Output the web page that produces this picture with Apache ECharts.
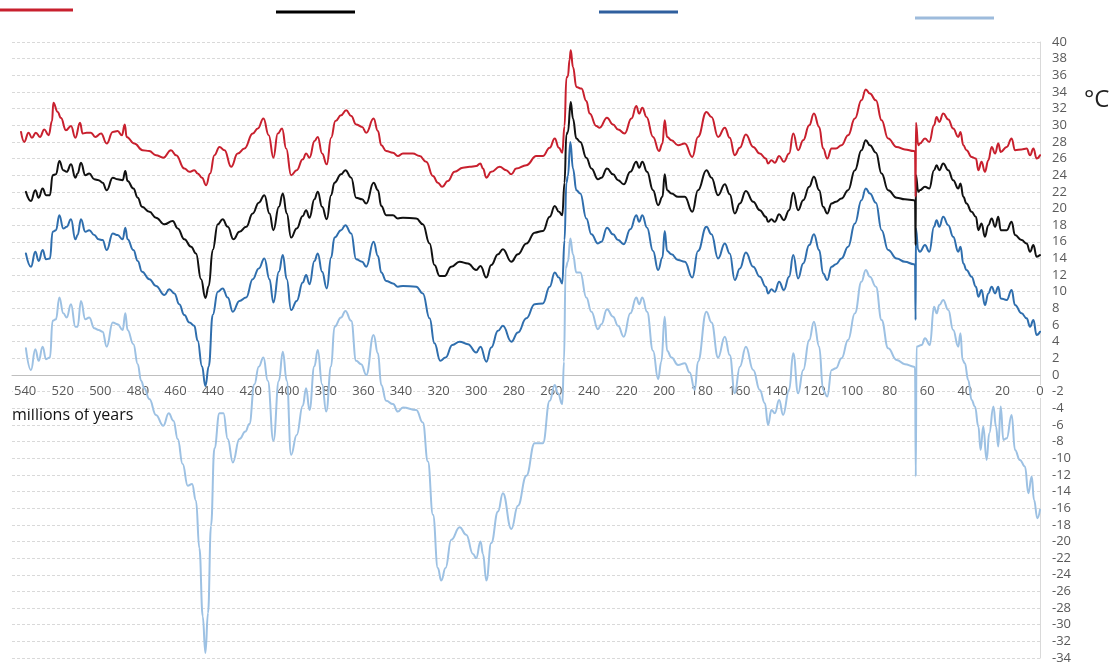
<!DOCTYPE html>
<html>
<head>
<meta charset="utf-8">
<script src="https://cdn.jsdelivr.net/npm/echarts/dist/echarts.min.js"></script>
<style>
html,body{margin:0;padding:0;background:#fff;}
#chart{width:1109px;height:663px;}
</style>
</head>
<body>
<div id="chart"></div>
<script>
// ---- data (age in millions of years, temperature in °C) ----
const tropicalAge = [542.2,540.5,538.2,536.4,534.3,532.1,529.8,527.5,525.7,525.0,522.7,521.0,518.3,515.6,513.3,510.8,509.4,507.3,505.0,502.7,499.6,496.6,493.4,490.8,488.5,487.0,486.0,481.9,477.5,474.0,470.4,466.5,462.4,459.7,455.3,452.6,450.0,448.2,445.9,443.7,441.6,439.3,436.6,433.9,430.4,426.9,423.3,418.9,416.2,413.2,410.4,407.9,405.6,403.3,401.1,398.5,395.5,392.3,390.5,388.7,386.0,384.3,382.0,379.5,377.2,374.9,371.9,369.2,366.5,363.9,360.7,358.5,354.6,352.3,350.5,347.9,344.3,341.7,339.0,333.7,330.1,326.6,323.0,320.4,318.1,315.1,311.5,307.1,303.5,300.0,297.8,296.4,294.6,292.0,287.5,284.0,281.3,278.7,273.3,268.0,264.5,260.9,258.2,256.0,254.2,253.0,252.0,251.2,250.3,249.7,248.5,246.7,244.0,241.4,239.6,236.1,234.3,230.4,227.2,224.5,221.0,217.4,214.8,213.3,211.6,209.4,205.9,202.7,200.9,199.7,198.4,196.1,192.6,189.0,185.0,182.0,177.5,174.8,171.3,167.7,165.1,162.4,159.7,156.5,152.6,149.1,145.9,144.7,142.9,141.1,138.8,136.3,133.5,131.3,128.7,126.0,122.8,120.3,117.5,115.4,113.2,110.9,108.6,105.6,102.1,98.5,95.0,92.7,90.5,87.3,84.3,80.8,76.3,71.9,67.1,66.5,66.2,66.0,64.8,63.9,61.2,58.9,56.4,55.0,53.6,51.5,48.8,46.2,43.5,42.3,40.8,39.1,36.4,34.1,32.8,31.1,29.3,27.5,25.7,23.9,22.2,20.9,17.7,15.1,13.3,9.8,7.1,5.3,3.5,1.8,0];
const tropicalTemp = [29.2,28.0,29.1,28.5,29.1,28.6,29.5,28.8,30.5,32.7,31.6,30.9,29.4,29.9,28.5,30.3,29.0,29.1,29.1,28.6,29.0,27.8,29.2,29.3,28.8,30.1,28.6,27.8,27.0,26.9,26.4,26.1,27.0,26.4,24.8,24.4,24.6,24.2,23.7,22.8,24.2,26.4,27.4,27.0,25.0,26.6,27.2,29.0,29.6,30.8,28.8,26.1,29.0,29.6,27.2,24.0,24.6,25.9,26.6,26.1,28.1,28.6,26.6,25.3,28.5,30.5,31.2,31.8,31.1,30.1,29.8,29.1,30.8,29.3,27.6,26.9,26.7,26.3,26.6,26.6,26.3,25.6,23.9,23.1,22.6,23.3,24.4,24.9,25.0,25.1,25.4,24.8,23.7,24.4,25.0,24.6,24.1,24.8,25.2,26.3,26.3,27.3,28.4,27.3,26.7,29.9,35.7,35.9,37.9,39.0,37.0,34.6,34.4,32.9,31.4,29.9,29.7,30.9,30.1,29.5,29.0,30.8,32.3,31.4,32.1,31.0,28.6,26.9,27.8,30.6,28.6,28.2,27.6,27.8,26.2,28.6,31.6,31.0,28.6,29.7,28.5,26.4,27.3,28.9,27.4,26.6,26.0,25.4,25.8,25.5,26.3,25.6,26.6,29.0,27.0,28.2,30.0,31.4,29.8,27.2,26.0,27.2,27.2,27.6,28.8,30.8,33.0,34.3,33.8,33.0,30.6,28.4,27.4,27.1,26.9,26.8,21.4,30.3,27.6,27.8,28.4,28.0,30.0,31.0,30.4,31.4,30.7,29.6,28.6,29.2,27.6,27.0,26.2,26.0,24.6,25.6,24.4,25.8,27.4,26.6,27.8,26.8,27.4,28.4,27.0,27.1,27.2,26.4,27.2,26.0,26.4];

const globalAge = [539.6,536.9,534.6,532.8,530.7,528.9,526.8,525.4,523.6,521.8,519.7,517.9,515.6,513.3,512.1,510.3,508.0,505.9,503.2,500.9,498.8,496.6,493.4,490.8,488.1,486.7,485.5,482.4,480.1,477.8,473.9,470.4,465.9,461.5,458.8,455.3,451.7,449.1,446.4,444.1,442.3,440.2,437.5,434.9,432.2,429.2,426.0,422.4,418.9,415.7,412.7,410.0,407.9,405.0,402.9,400.8,398.5,395.5,392.3,390.5,388.7,386.1,384.3,382.0,379.5,377.2,375.4,371.9,369.6,366.5,363.9,360.7,358.5,354.6,352.3,350.5,347.9,344.3,341.7,339.0,331.9,328.4,324.8,322.2,319.5,316.8,313.3,308.8,304.4,300.0,297.7,294.6,292.0,288.4,285.8,281.3,277.8,273.3,268.9,264.5,260.9,258.2,256.0,254.2,253.0,252.0,251.2,249.7,248.5,246.7,244.6,241.4,238.7,235.2,233.4,230.4,227.2,224.5,221.5,218.0,214.8,213.3,211.6,209.1,205.9,203.2,200.9,199.7,198.4,196.1,192.6,189.0,185.0,182.0,177.5,174.8,171.3,167.7,165.1,162.4,159.7,156.5,152.6,149.1,145.9,144.7,142.9,141.1,138.8,136.3,133.5,131.3,128.7,126.0,122.8,120.3,117.5,115.4,113.2,110.9,108.6,105.6,102.1,98.5,95.0,92.7,90.5,87.3,84.3,80.8,76.3,71.9,67.1,66.5,66.2,66.0,64.8,63.9,61.2,58.9,56.4,55.0,53.6,51.5,48.8,46.2,43.5,42.3,40.8,39.1,36.4,34.1,32.8,31.1,29.3,27.5,25.7,23.9,22.2,20.9,17.7,15.1,13.3,9.8,7.1,5.3,3.5,1.8,0];
const globalTemp = [22.0,20.9,22.2,21.3,22.4,21.6,21.6,24.0,24.1,25.7,24.6,24.4,25.3,23.7,24.2,25.5,24.0,24.2,23.5,23.4,23.1,22.2,23.7,23.5,23.4,24.5,23.3,22.4,21.3,20.2,19.6,18.9,18.1,18.5,17.6,16.3,15.4,14.6,11.5,9.25,10.7,15.0,18.1,18.7,17.8,16.3,17.2,17.8,19.4,20.7,21.6,19.4,17.4,20.2,21.8,19.4,16.5,17.6,19.1,19.8,18.9,21.1,22.0,20.2,18.7,21.6,23.1,24.1,24.6,23.7,21.3,21.1,20.6,23.1,22.2,20.3,19.2,19.2,18.8,18.9,18.8,18.1,15.8,13.2,11.9,11.9,13.0,13.6,13.4,12.6,13.1,11.7,13.2,14.5,15.1,13.6,14.5,15.8,17.1,17.3,19.0,20.3,19.6,19.2,23.1,28.9,29.2,32.8,30.8,28.4,28.0,26.1,24.8,23.5,23.7,24.8,24.1,23.4,22.9,24.4,25.6,24.9,25.6,24.4,22.2,20.4,21.4,24.1,22.2,21.8,21.4,21.4,19.6,22.2,24.6,23.7,21.6,22.9,21.7,19.4,20.6,22.1,20.8,19.8,19.0,18.4,18.7,18.4,19.3,18.6,19.8,21.9,19.8,21.0,22.6,23.8,22.2,20.2,19.4,20.6,20.8,21.2,22.2,24.6,27.0,28.2,27.6,26.7,24.2,22.2,21.3,21.1,21.0,20.9,15.6,24.0,22.0,22.2,22.6,22.4,24.6,25.2,24.6,25.4,24.6,23.4,22.4,23.0,21.4,20.6,19.6,19.0,17.4,18.2,16.6,18.0,18.8,17.8,19.0,17.4,17.4,18.4,16.8,16.2,15.8,14.8,15.6,14.2,14.4];

const midAge = [539.6,536.9,534.6,532.8,530.7,528.9,526.8,525.4,523.6,521.8,519.7,517.9,515.6,513.3,512.1,510.3,508.0,505.9,503.2,500.9,498.8,496.6,493.4,490.8,488.1,486.7,485.5,482.4,480.1,477.8,473.9,470.4,465.9,463.3,460.6,458.0,455.3,452.6,450.0,448.2,445.9,444.1,442.3,440.2,437.5,434.9,432.2,429.5,426.0,422.4,418.9,415.7,412.7,410.0,407.9,405.0,402.9,400.8,398.5,395.5,392.3,390.5,388.7,386.1,384.3,382.0,379.5,377.2,375.4,371.9,369.6,366.5,363.9,360.7,358.5,354.6,352.3,350.5,347.9,344.3,341.7,339.0,331.9,328.4,324.8,322.2,319.1,316.3,312.7,308.8,304.4,300.0,297.7,294.6,292.0,288.4,285.8,281.3,277.8,273.3,268.9,264.5,260.9,258.2,256.0,254.2,253.0,252.0,251.2,249.9,248.5,246.7,244.6,241.4,238.7,235.2,233.4,230.4,227.2,224.5,221.5,218.0,214.8,213.3,211.6,209.1,205.9,203.2,200.9,199.7,198.4,196.1,192.6,189.0,185.0,182.0,177.5,174.8,171.3,167.7,165.1,162.4,159.7,156.5,152.6,149.1,145.9,144.7,142.9,141.1,138.8,136.3,133.5,131.3,128.7,126.0,122.8,120.3,117.5,115.4,113.2,110.9,108.6,105.6,102.1,98.5,95.0,92.7,90.5,87.3,84.3,80.8,76.3,71.9,67.1,66.5,66.2,66.0,64.8,63.9,61.2,58.9,56.4,55.0,53.6,51.5,48.8,46.2,43.5,42.3,40.8,39.1,36.4,34.1,32.8,31.1,29.3,27.5,25.7,23.9,22.2,20.9,17.7,15.1,13.3,9.8,7.1,5.3,3.5,1.8,0];
const midTemp = [14.6,13.0,14.8,13.7,15.0,13.9,14.0,17.2,17.4,19.2,17.6,17.8,18.7,16.3,16.8,18.7,17.2,17.4,16.8,16.3,16.2,15.0,17.0,16.8,16.3,17.7,16.3,15.0,13.7,12.4,11.5,10.7,9.6,10.3,9.8,8.5,7.2,6.3,5.9,4.1,1.05,-1.35,1.05,7.2,10.0,10.4,9.3,7.6,8.9,9.3,11.5,12.8,14.0,11.5,8.7,12.4,14.4,11.5,7.8,8.9,11.1,12.0,10.9,13.7,14.6,12.4,10.4,14.1,16.5,17.4,18.0,17.0,13.9,13.6,13.0,16.0,14.3,12.3,11.3,11.0,10.6,10.7,10.6,9.8,6.8,3.8,1.7,2.1,3.6,4.0,3.7,2.7,3.4,1.6,3.3,5.3,5.9,4.0,5.1,6.8,8.5,8.6,10.6,12.3,11.7,11.0,16.2,23.1,23.9,28.0,24.8,22.2,21.8,18.8,16.9,15.8,16.0,17.7,16.9,16.2,15.7,17.5,19.2,18.4,19.2,17.7,14.9,12.6,14.1,17.3,14.9,14.5,13.8,13.6,11.7,14.9,17.8,16.9,14.0,15.8,14.6,11.4,12.8,14.7,13.0,11.8,10.6,9.8,10.3,10.0,11.2,10.2,11.8,14.4,11.6,13.4,15.6,16.9,15.0,12.2,11.4,13.0,13.3,14.0,15.4,18.2,21.0,22.4,21.8,20.7,17.4,15.0,14.0,13.6,13.3,13.2,6.6,17.6,15.0,14.8,15.6,14.8,17.8,18.6,17.8,19.0,18.0,16.6,14.8,15.4,13.4,12.6,11.8,10.6,9.4,10.2,8.4,9.8,10.6,9.8,10.6,9.2,9.0,10.2,8.4,7.4,6.8,5.8,6.6,4.8,5.2];

const polarAge = [539.6,536.9,534.6,532.8,530.7,528.9,526.8,525.4,523.6,521.8,519.7,517.9,515.6,513.3,512.1,510.3,508.0,505.9,503.2,500.9,498.8,496.6,493.4,490.8,488.1,486.7,485.5,482.4,480.1,478.3,476.6,473.9,470.4,466.5,463.6,461.1,458.8,456.2,453.5,451.2,449.1,447.3,445.5,444.1,442.7,441.1,439.3,436.6,434.5,432.2,429.5,426.0,422.8,420.7,418.0,415.7,413.2,410.9,407.9,405.0,402.9,400.8,398.5,395.5,392.3,390.5,388.7,386.1,384.3,382.0,379.8,377.2,375.4,371.9,369.6,366.5,363.9,361.2,358.5,354.6,352.3,350.5,347.9,344.3,341.7,339.0,331.9,328.4,325.7,323.0,320.4,318.6,316.3,313.3,308.8,305.3,301.7,300.0,297.7,296.4,294.6,292.0,288.4,285.8,281.3,277.8,273.3,268.9,264.5,260.9,258.2,256.5,254.2,253.3,252.4,251.2,249.9,248.5,246.7,244.6,241.4,238.7,235.2,233.4,230.4,227.2,224.5,221.5,218.0,214.8,213.3,211.6,209.1,205.9,203.2,201.5,199.7,198.4,196.1,192.6,189.0,186.4,183.7,182.0,177.5,174.8,171.3,167.7,165.1,162.4,159.7,156.5,152.6,149.1,146.4,144.7,142.9,141.1,138.8,136.7,133.5,131.3,128.7,126.0,122.8,120.3,117.5,115.4,113.2,110.9,108.6,105.6,102.1,98.5,95.0,92.7,90.5,87.3,84.3,80.8,76.3,71.9,67.1,66.5,66.1,65.7,63.0,61.2,58.6,56.4,55.0,53.6,51.5,48.8,46.2,43.5,42.3,41.2,40.0,38.2,36.4,34.6,32.8,31.6,30.2,28.4,27.0,24.8,23.4,22.2,20.9,19.5,17.7,15.1,13.3,10.7,8.0,6.2,4.4,3.2,1.4,0];
const polarTemp = [3.2,0.6,3.1,1.7,3.4,1.9,2.1,6.5,6.7,9.3,7.4,6.9,8.5,5.8,5.8,8.9,6.7,6.9,5.6,5.4,5.2,3.4,6.3,6.1,5.4,7.4,5.4,3.7,1.3,-0.7,-1.6,-2.9,-4.8,-6.1,-4.6,-5.5,-7.7,-10.7,-13.3,-13.1,-15.1,-20.8,-29.0,-33.4,-28.6,-18.1,-8.8,-4.6,-4.6,-7.7,-10.5,-7.7,-6.8,-5.9,-1.1,1.0,2.1,-0.7,-7.9,-0.7,2.8,-0.7,-9.6,-7.2,-3.7,-1.6,-4.2,1.05,3.0,-1.1,-4.4,1.05,5.8,6.9,7.7,6.5,1.7,1.3,0.0,4.8,2.6,-1.2,-3.1,-3.5,-4.4,-3.9,-4.2,-5.7,-10.4,-16.8,-23.2,-24.7,-23.2,-19.8,-18.3,-19.2,-21.5,-22.0,-20.0,-21.5,-24.7,-20.2,-16.4,-14.2,-18.5,-15.7,-12.1,-8.2,-8.2,-3.1,-1.2,-2.2,-3.5,1.6,12.8,13.6,16.4,14.5,12.3,12.3,9.3,7.6,5.5,6.1,7.9,7.0,5.9,4.6,7.4,9.3,8.5,9.3,7.6,2.9,-0.5,1.6,7.0,2.9,2.1,1.2,1.4,0.3,-1.8,1.6,7.6,6.3,2.1,4.6,2.4,-2.2,1.0,3.4,0.6,-1.8,-3.4,-6.0,-4.2,-4.6,-3.0,-4.8,-1.8,2.6,-2.2,0.6,4.2,6.4,3.4,-1.8,-2.6,0.6,0.8,2.0,4.2,7.4,11.2,12.6,11.8,10.6,6.6,3.2,1.8,1.3,1.0,0.9,-12.2,3.4,3.6,4.4,3.6,8.2,7.4,8.4,9.0,7.8,5.4,3.4,5.0,1.8,1.4,-0.6,-3.0,-3.8,-6.2,-9.0,-6.2,-10.2,-7.0,-3.8,-6.2,-8.6,-3.8,-7.8,-7.6,-4.8,-9.0,-10.2,-11.0,-14.2,-12.2,-15.0,-17.2,-16.2];

const yTicks = {min: -34, max: 40, step: 2};
const xTicks = {min: 0, max: 547, step: 20};

function zip(a, b) { return a.map((t, i) => [t, b[i]]); }

const chart = echarts.init(document.getElementById('chart'), null, {renderer: 'canvas'});

function mkSeries(name, age, temp, color, width) {
  return {
    name: name, type: 'line', data: zip(age, temp), showSymbol: false,
    xAxisIndex: 0, yAxisIndex: 0,
    smooth: 0.45, smoothMonotone: 'x',
    lineStyle: {color: color, width: width, cap: 'round', join: 'round'}, itemStyle: {color: color},
    silent: true, animation: false, z: 3
  };
}

const labelFont = "'Open Sans', 'DejaVu Sans', sans-serif";
// plot box: x from 12 to 1040, y from 42 (40 °C) to 658 (-34 °C); 0 °C at y = 375
const plotLeft = 12, plotRight = 69, plotTop = 42, plotBottom = 5;
const zeroY = 375;

chart.setOption({
  animation: false,
  backgroundColor: '#ffffff',
  grid: [
    {left: plotLeft, right: plotRight, top: plotTop, bottom: plotBottom, containLabel: false, outerBoundsMode: 'none'},
    {left: plotLeft, right: plotRight, top: plotTop, height: zeroY - plotTop, containLabel: false, outerBoundsMode: 'none'}
  ],
  xAxis: [
    {
      gridIndex: 0, type: 'value', inverse: true,
      min: xTicks.min, max: xTicks.max, interval: xTicks.step,
      axisLine: {show: false}, axisTick: {show: false}, splitLine: {show: false}, axisLabel: {show: false}
    },
    {
      gridIndex: 1, type: 'value', inverse: true, position: 'bottom',
      min: xTicks.min, max: xTicks.max, interval: xTicks.step,
      axisLine: {show: true, onZero: false, lineStyle: {color: '#bfbfbf', width: 1}},
      axisTick: {show: false},
      splitLine: {show: false},
      axisLabel: {
        showMaxLabel: false, margin: 10, color: '#595959', fontSize: 13,
        fontFamily: labelFont, backgroundColor: '#ffffff', padding: [0, 1]
      }
    }
  ],
  yAxis: [
    {
      gridIndex: 0, type: 'value', position: 'right',
      min: yTicks.min, max: yTicks.max, interval: yTicks.step,
      axisLine: {show: true, onZero: false, lineStyle: {color: '#d9d9d9', width: 1}},
      axisTick: {show: false},
      splitLine: {show: true, lineStyle: {color: '#d9d9d9', type: [3, 2], width: 1}},
      axisLabel: {margin: 12, color: '#595959', fontSize: 13, fontFamily: labelFont}
    },
    {
      gridIndex: 1, type: 'value', min: 0, max: 1, show: false
    }
  ],
  series: [
    mkSeries('Polar', polarAge, polarTemp, '#9dc1e3', 2),
    mkSeries('Mid-latitude', midAge, midTemp, '#2f6ead', 2),
    mkSeries('Global', globalAge, globalTemp, '#111111', 2),
    mkSeries('Tropical', tropicalAge, tropicalTemp, '#c8202e', 2)
  ],
  graphic: [
    {type: 'line', shape: {x1: 0, y1: 10, x2: 73, y2: 10}, style: {stroke: '#c8202e', lineWidth: 3}},
    {type: 'line', shape: {x1: 276, y1: 12, x2: 355, y2: 12}, style: {stroke: '#000000', lineWidth: 3}},
    {type: 'line', shape: {x1: 599, y1: 12, x2: 678, y2: 12}, style: {stroke: '#2f5f9e', lineWidth: 3}},
    {type: 'line', shape: {x1: 915, y1: 18, x2: 994, y2: 18}, style: {stroke: '#9dbbdc', lineWidth: 3}},
    {type: 'text', left: 12, top: 407, style: {text: 'millions of years', fontSize: 16, fill: '#111111', fontFamily: labelFont}},
    {type: 'text', left: 1084, top: 88, style: {text: '°C', fontSize: 24, fill: '#222222', fontFamily: labelFont}}
  ]
});
</script>
</body>
</html>
